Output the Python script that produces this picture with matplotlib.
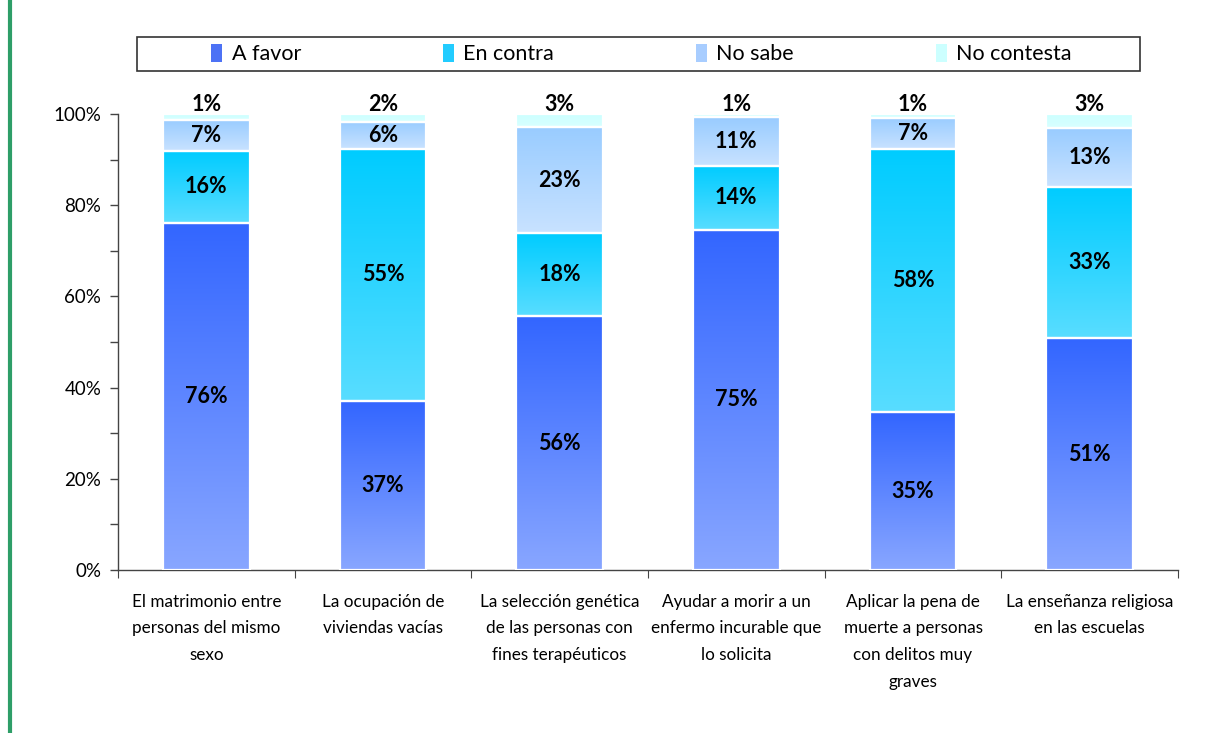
import numpy as np
import matplotlib
matplotlib.use("Agg")
import matplotlib.pyplot as plt
from matplotlib.colors import to_rgb
from matplotlib.patches import Patch, Rectangle
from matplotlib.lines import Line2D

plt.rcParams["font.family"] = ["Lato", "DejaVu Sans"]

categories = [
    "El matrimonio entre\npersonas del mismo\nsexo",
    "La ocupación de\nviviendas vacías",
    "La selección genética\nde las personas con\nfines terapéuticos",
    "Ayudar a morir a un\nenfermo incurable que\nlo solicita",
    "Aplicar la pena de\nmuerte a personas\ncon delitos muy\ngraves",
    "La enseñanza religiosa\nen las escuelas",
]
series_names = ["A favor", "En contra", "No sabe", "No contesta"]
a_favor = [76.1, 37.1, 55.7, 74.6, 34.6, 50.8]
en_contra = [15.8, 55.2, 18.1, 14.1, 57.7, 33.3]
no_sabe = [6.8, 6.0, 23.4, 10.6, 6.9, 12.8]
no_contesta = [1.3, 1.7, 2.8, 0.7, 0.8, 3.1]

# gradient top -> bottom per series, plus a flat colour for the legend swatch
grad_top = ["#3366ff", "#00ccff", "#99ccff", "#ccffff"]
grad_bottom = ["#88a6ff", "#58ddff", "#c8e2ff", "#d8ffff"]
legend_colors = ["#4d72f5", "#22ccff", "#a8cdff", "#ccffff"]

W, H = 1207, 733
fig = plt.figure(figsize=(W / 100, H / 100), dpi=100)
ax = fig.add_axes([118 / W, 1 - 570 / H, (1178 - 118) / W, (570 - 114) / H])

x = np.arange(len(categories))
width = 0.49
bottom = np.zeros(len(categories))
data = [a_favor, en_contra, no_sabe, no_contesta]

for i, vals in enumerate(data):
    vals = np.array(vals)
    bars = ax.bar(x, vals, width, bottom=bottom, facecolor="none",
                  edgecolor="white", linewidth=1.6, zorder=3)
    c0 = np.array(to_rgb(grad_top[i]))
    c1 = np.array(to_rgb(grad_bottom[i]))
    t = np.linspace(0, 1, 64)[:, None]
    grad = (c0 * (1 - t) + c1 * t)[:, None, :]
    for p in bars.patches:
        x0, y0 = p.get_x(), p.get_y()
        ax.imshow(grad, extent=[x0, x0 + p.get_width(), y0, y0 + p.get_height()],
                  origin="upper", aspect="auto", zorder=2, interpolation="bilinear")
    for xi, b, v in zip(x, bottom, vals):
        lbl = f"{int(round(v))}%"
        if i == 3:
            ax.annotate(lbl, (xi, b + v), xytext=(0, 2), textcoords="offset points",
                        ha="center", va="baseline", fontsize=15.5, fontweight="bold",
                        zorder=5)
        else:
            ax.text(xi, b + v / 2, lbl, ha="center", va="center", fontsize=15.5,
                    fontweight="bold", zorder=5)
    bottom = bottom + vals

ax.set_xlim(-0.5, len(categories) - 0.5)
ax.set_ylim(0, 100)
ax.set_yticks(np.arange(0, 101, 20))
ax.set_yticklabels([f"{v}%" for v in range(0, 101, 20)], fontsize=13.5)
ax.set_yticks(np.arange(10, 100, 20), minor=True)
ax.tick_params(axis="y", which="both", direction="out", length=6, width=1,
               color="#444444", pad=6)

ax.set_xticks(np.arange(-0.5, len(categories), 1.0))
ax.set_xticklabels([])
ax.set_xticks(x, minor=True)
ax.set_xticklabels(categories, minor=True, fontsize=12.3, linespacing=1.82,
                   va="top", ha="center")
ax.tick_params(axis="x", which="major", direction="out", length=6, color="#444444")
ax.tick_params(axis="x", which="minor", length=0, pad=17)

for s in ["top", "right"]:
    ax.spines[s].set_visible(False)
for s in ["left", "bottom"]:
    ax.spines[s].set_color("#444444")
    ax.spines[s].set_linewidth(1)

# legend box
fig.patches.append(Rectangle((137 / W, 1 - 71 / H), (1140 - 137) / W, 34 / H,
                             transform=fig.transFigure, facecolor="white",
                             edgecolor="#333333", linewidth=1.2))
handles = [Patch(facecolor=c, edgecolor="none") for c in legend_colors]
fig.legend(handles, series_names, loc="center", ncol=4, mode="expand",
           bbox_to_anchor=(196 / W, 1 - 71 / H, (1087 - 196) / W, 34 / H),
           frameon=False, fontsize=15.5, handlelength=0.5, handleheight=0.95,
           handletextpad=0.45, borderpad=0.2)

# green left rule
fig.add_artist(Line2D([10 / W, 10 / W], [0.002, 1], transform=fig.transFigure,
                      color="#2e9e68", linewidth=3))

fig.savefig("out.png", dpi=100)
